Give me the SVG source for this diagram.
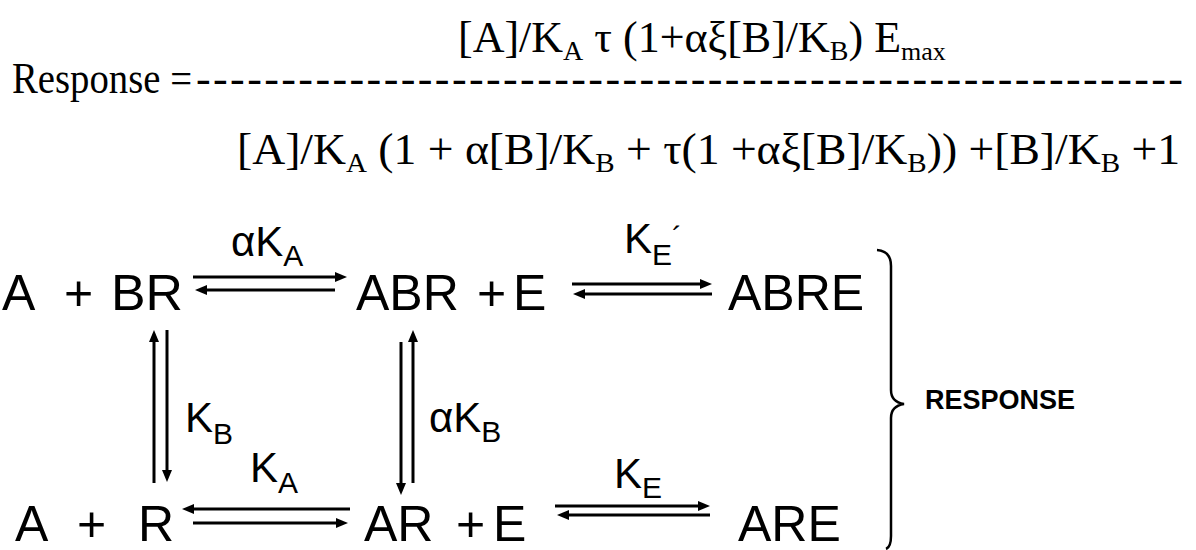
<svg xmlns="http://www.w3.org/2000/svg" width="1196" height="550" viewBox="0 0 1196 550">
<style>
.f{font-family:"Liberation Serif","Times New Roman",serif;font-size:44px;fill:#000}
.s{font-size:28px}
.sm{font-size:26px}
.n{font-family:"Liberation Sans",Arial,sans-serif;font-size:50px;fill:#000}
.l{font-family:"Liberation Sans",Arial,sans-serif;font-size:42px;fill:#000}
.ls{font-size:30px}
.c line{stroke:#000;stroke-width:3;fill:none}
.r{font-family:"Liberation Sans",Arial,sans-serif;font-size:27px;font-weight:bold;fill:#000}
</style>
<defs>
<marker id="ah" viewBox="0 0 12 10" refX="4" refY="5" markerWidth="12" markerHeight="10" markerUnits="userSpaceOnUse" orient="auto"><path d="M0,0 L12,5 L0,10 z" fill="#000"/></marker>
</defs>
<rect width="1196" height="550" fill="#fff"/>
<g id="equation">
<text class="f" x="458" y="52">[A]/K<tspan class="s" dy="8">A</tspan><tspan dy="-8"> τ (1+αξ[B]/K</tspan><tspan class="s" dy="8">B</tspan><tspan dy="-8">) E</tspan><tspan class="sm" dy="8">max</tspan></text>
<text class="f" x="12" y="93" textLength="180" lengthAdjust="spacingAndGlyphs">Response =</text>
<text class="f" x="196" y="93" textLength="987" lengthAdjust="spacing">----------------------------------------------------------</text>
<text class="f" x="237" y="164" textLength="943" lengthAdjust="spacingAndGlyphs">[A]/K<tspan class="s" dy="8">A</tspan><tspan dy="-8"> (1 + α[B]/K</tspan><tspan class="s" dy="8">B</tspan><tspan dy="-8"> + τ(1 +αξ[B]/K</tspan><tspan class="s" dy="8">B</tspan><tspan dy="-8">)) +[B]/K</tspan><tspan class="s" dy="8">B</tspan><tspan dy="-8"> +1</tspan></text>
</g>
<g id="node-A-BR"><text class="n" x="2" y="310">A</text><text class="n" x="64" y="310">+</text><text class="n" x="111" y="310" textLength="72" lengthAdjust="spacingAndGlyphs">BR</text></g>
<g id="node-ABR-E"><text class="n" x="356" y="310">ABR</text><text class="n" x="477" y="310">+</text><text class="n" x="513" y="310">E</text></g>
<g id="node-ABRE"><text class="n" x="728" y="310">ABRE</text></g>
<g id="node-A-R"><text class="n" x="15" y="541">A</text><text class="n" x="77" y="541">+</text><text class="n" x="138" y="541">R</text></g>
<g id="node-AR-E"><text class="n" x="364" y="541">AR</text><text class="n" x="456" y="541">+</text><text class="n" x="493" y="541">E</text></g>
<g id="node-ARE"><text class="n" x="738" y="541">ARE</text></g>
<g id="node-response"><path d="M877,250 Q891,251 891,266 L891,390 Q891,402 904,404 Q891,406 891,418 L891,536 Q891,547 886,549" fill="none" stroke="#000" stroke-width="2.5"/><text class="r" x="925" y="409">RESPONSE</text></g>
<g id="connectors" class="c">
<line x1="193" y1="277" x2="339" y2="277" marker-end="url(#ah)"/>
<line x1="335" y1="290" x2="203" y2="290" marker-end="url(#ah)"/>
<line x1="572" y1="284" x2="704" y2="284" marker-end="url(#ah)"/>
<line x1="712" y1="294" x2="581" y2="294" marker-end="url(#ah)"/>
<line x1="154" y1="483" x2="154" y2="338" marker-end="url(#ah)"/>
<line x1="167" y1="330" x2="167" y2="474" marker-end="url(#ah)"/>
<line x1="401" y1="342" x2="401" y2="487" marker-end="url(#ah)"/>
<line x1="413" y1="483" x2="413" y2="338" marker-end="url(#ah)"/>
<line x1="350" y1="509" x2="190" y2="509" marker-end="url(#ah)"/>
<line x1="193" y1="523" x2="340" y2="523" marker-end="url(#ah)"/>
<line x1="555" y1="506" x2="702" y2="506" marker-end="url(#ah)"/>
<line x1="710" y1="515" x2="565" y2="515" marker-end="url(#ah)"/>
</g>
<g id="labels">
<text class="l" x="231" y="256">αK<tspan class="ls" dy="10">A</tspan></text>
<text class="l" x="624" y="253">K<tspan class="ls" dy="12">E</tspan><tspan class="ls" dy="-18">´</tspan></text>
<text class="l" x="185" y="432">K<tspan class="ls" dy="12">B</tspan></text>
<text class="l" x="429" y="432">αK<tspan class="ls" dy="10">B</tspan></text>
<text class="l" x="250" y="482">K<tspan class="ls" dy="11">A</tspan></text>
<text class="l" x="614" y="488">K<tspan class="ls" dy="10">E</tspan></text>
</g>
</svg>
